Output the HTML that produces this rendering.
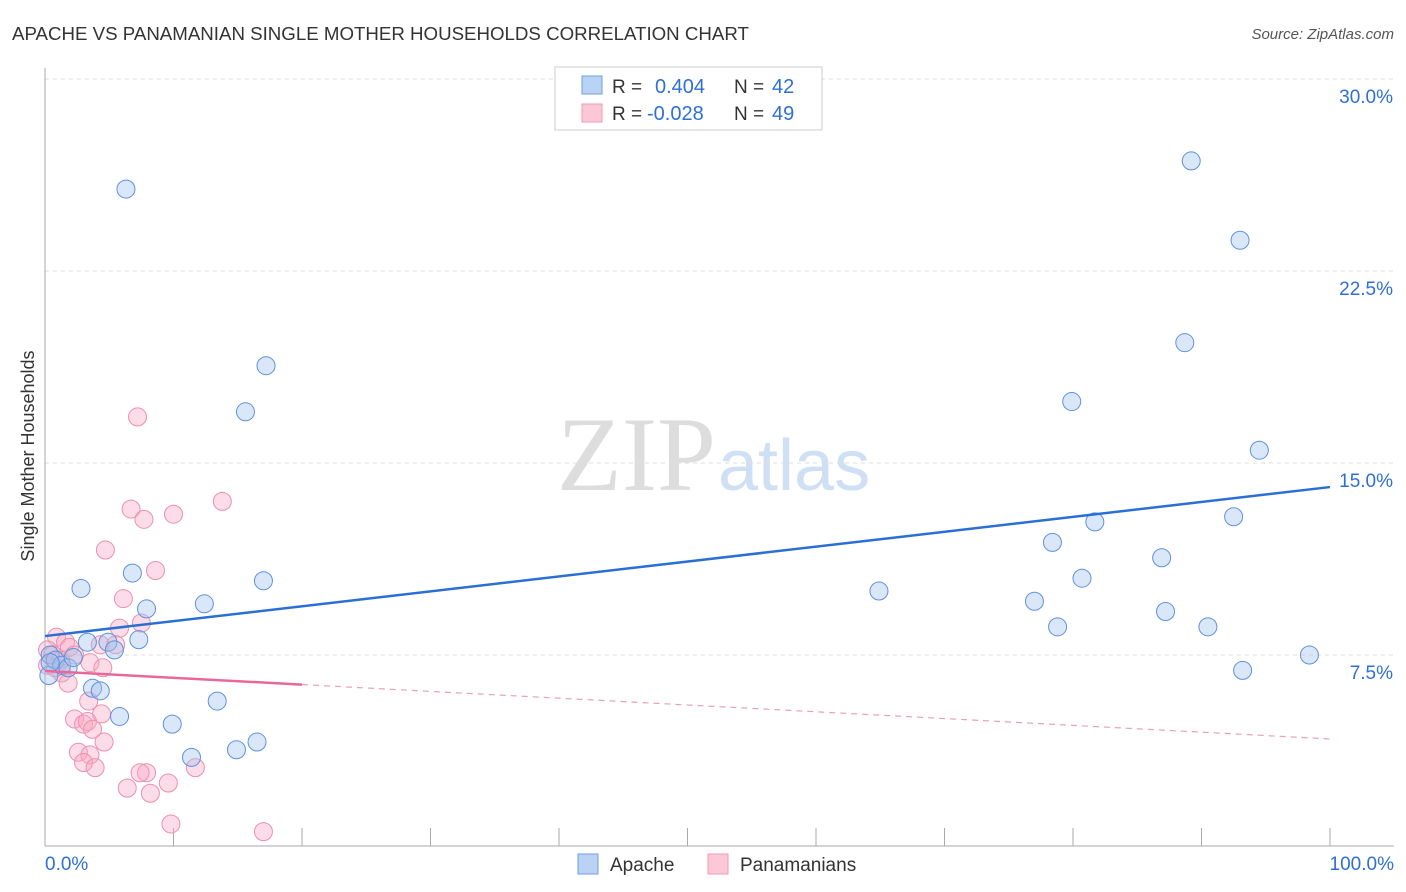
<!DOCTYPE html>
<html><head><meta charset="utf-8"><style>
body{margin:0;background:#fff;font-family:"Liberation Sans",sans-serif;}
svg{display:block}
</style></head><body>
<svg id="chart" width="1406" height="892">
<text x="12" y="40" font-size="18.7" fill="#333">APACHE VS PANAMANIAN SINGLE MOTHER HOUSEHOLDS CORRELATION CHART</text>
<text x="1394" y="39" font-size="15" fill="#555" font-style="italic" text-anchor="end">Source: ZipAtlas.com</text>
<text x="34" y="456" font-size="18" fill="#333" text-anchor="middle" transform="rotate(-90 34 456)">Single Mother Households</text>
<text x="716" y="490" font-size="106" fill="#ddd" text-anchor="end" font-family="Liberation Serif,serif">ZIP</text>
<text x="718" y="490" font-size="72" fill="#cfe0f4">atlas</text>
<g id="grid"></g><g id="pts"></g><g id="lines"></g>
<g>
<rect x="555" y="67" width="267" height="63" fill="#fff" stroke="#ccc"/>
<rect x="582" y="76" width="20" height="18" fill="#b9d3f5" stroke="#6f9ee0"/>
<rect x="582" y="104" width="20" height="18" fill="#fcc8d8" stroke="#ef9ab5"/>
<text x="612" y="93" font-size="19" fill="#333">R =</text><text x="655" y="93" font-size="20" fill="#2f6fd6">0.404</text>
<text x="734" y="93" font-size="19" fill="#333">N =</text><text x="772" y="93" font-size="20" fill="#2f6fd6">42</text>
<text x="612" y="120" font-size="19" fill="#333">R =</text><text x="647" y="120" font-size="20" fill="#2f6fd6">-0.028</text>
<text x="734" y="120" font-size="19" fill="#333">N =</text><text x="772" y="120" font-size="20" fill="#2f6fd6">49</text>
</g>
<g>
<rect x="578" y="854" width="20" height="20" fill="#b9d3f5" stroke="#6f9ee0"/>
<text x="610" y="871" font-size="19" fill="#333">Apache</text>
<rect x="708" y="854" width="20" height="20" fill="#fcc8d8" stroke="#ef9ab5"/>
<text x="740" y="871" font-size="19" fill="#333">Panamanians</text>
</g>
<text x="45" y="870" font-size="19" fill="#2f6fd6">0.0%</text>
<text x="1394" y="870" font-size="19" fill="#2f6fd6" text-anchor="end">100.0%</text>
</svg>
<script>
const yTicks=[7.5,15,22.5,30];
const yTickLabels=["7.5%","15.0%","22.5%","30.0%"];
const apacheX=[6.3,17.2,15.6,6.8,2.8,17.0,7.9,12.4,7.3,3.3,4.9,5.4,0.4,0.8,1.3,1.8,0.3,3.7,4.3,5.8,9.9,13.4,14.9,16.5,11.4,0.4,2.2,89.2,93.0,88.7,79.9,94.5,81.7,92.5,78.4,86.9,80.7,64.9,77.0,87.2,78.8,90.5,93.2,98.4];
const apacheY=[25.7,18.8,17.0,10.7,10.1,10.4,9.3,9.5,8.1,8.0,8.0,7.7,7.5,7.3,7.1,7.0,6.7,6.2,6.1,5.1,4.8,5.7,3.8,4.1,3.5,7.2,7.4,26.8,23.7,19.7,17.4,15.5,12.7,12.9,11.9,11.3,10.5,10.0,9.6,9.2,8.6,8.6,6.9,7.5];
const panX=[7.2,13.8,6.7,7.7,10.0,4.7,8.6,6.1,7.5,5.8,0.9,1.6,1.9,4.3,0.2,0.6,1.2,2.3,3.5,4.5,0.2,1.3,1.8,3.4,4.4,2.3,3.0,3.3,3.7,4.6,2.6,3.5,3.0,3.9,7.9,7.4,9.6,6.4,8.2,11.7,9.8,17.0,0.8,5.5];
const panY=[16.8,13.5,13.2,12.8,13.0,11.6,10.8,9.7,8.75,8.55,8.2,8.0,7.8,7.9,7.7,7.5,7.3,7.5,7.2,7.0,7.1,6.8,6.4,5.7,5.2,5.0,4.8,4.9,4.6,4.1,3.7,3.6,3.3,3.1,2.9,2.9,2.5,2.3,2.1,3.1,0.9,0.6,7.0,7.9];
const apacheTrend=[8.24,14.06];
const panTrend=[6.875,4.22];
const NS="http://www.w3.org/2000/svg";
const X=v=>45+v*12.85, Y=v=>847-v*25.6;
function mk(t,a,p){const e=document.createElementNS(NS,t);for(const k in a)e.setAttribute(k,a[k]);p.appendChild(e);return e;}
const grid=document.getElementById('grid');
yTicks.forEach((t,i)=>{
 const l=mk('line',{x1:45,x2:1394,y1:Y(t),y2:Y(t),stroke:'#ddd','stroke-dasharray':'4 4'},grid);
 
 
 const tx=mk('text',{x:1393,y:Y(t)+24,'font-size':19,fill:'#2f6fd6','text-anchor':'end'},grid);
 tx.textContent=yTickLabels[i];
 
 
});
const ax=mk('line',{x1:45,x2:45,y1:68,y2:846,stroke:'#aaa'},grid);


const bx=mk('line',{x1:45,x2:1394,y1:846,y2:846,stroke:'#aaa'},grid);


for(let i=1;i<=10;i++){const t=mk('line',{x1:X(i*10),x2:X(i*10),y1:828,y2:846,stroke:'#aaa'},grid);
 
 }
const pts=document.getElementById('pts');
panX.forEach((v,i)=>{const c=mk('circle',{cx:X(v),cy:Y(panY[i]),r:9,fill:'rgba(248,170,195,0.4)',stroke:'#ec8fae','stroke-width':1},pts);
 
 });
apacheX.forEach((v,i)=>{const c=mk('circle',{cx:X(v),cy:Y(apacheY[i]),r:9,fill:'rgba(160,195,240,0.4)',stroke:'#5f91dc','stroke-width':1},pts);
 
 });
const lines=document.getElementById('lines');
const bl=mk('line',{x1:X(0),y1:Y(apacheTrend[0]),x2:X(100),y2:Y(apacheTrend[1]),stroke:'#2a6fd6','stroke-width':2.5},lines);


const pAt=x=>panTrend[0]+(panTrend[1]-panTrend[0])*x/100;
const ps=mk('line',{x1:X(0),y1:Y(pAt(0)),x2:X(20),y2:Y(pAt(20)),stroke:'#e8689a','stroke-width':2.5},lines);


const pd=mk('line',{x1:X(20),y1:Y(pAt(20)),x2:X(100),y2:Y(pAt(100)),stroke:'#e8a0ba','stroke-width':1.2,'stroke-dasharray':'6 5'},lines);


</script>
</body></html>
